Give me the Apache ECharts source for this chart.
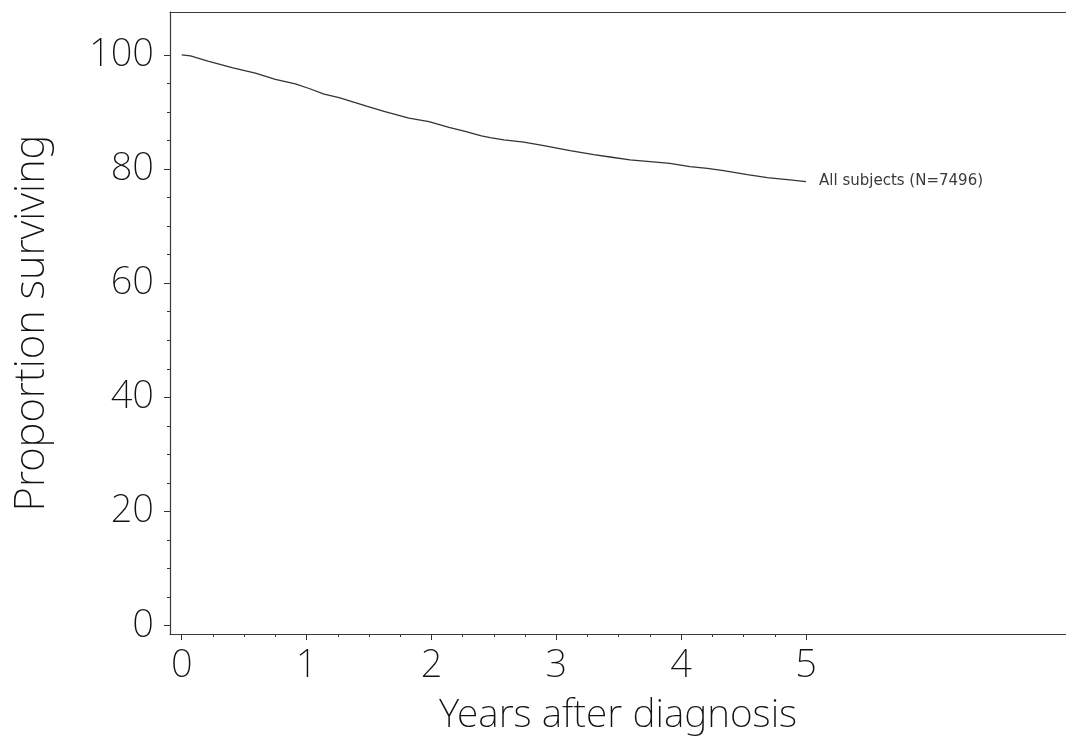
<!DOCTYPE html>
<html>
<head>
<meta charset="utf-8">
<script src="https://cdn.jsdelivr.net/npm/echarts@6/dist/echarts.min.js"></script>
<style>
html,body{margin:0;padding:0;background:#fff;}
#chart{width:1066px;height:742px;}
</style>
</head>
<body>
<div id="chart"></div>
<script>
// Survival curve (years after diagnosis, percent surviving)
var years = [0, 0.07, 0.21, 0.41, 0.59, 0.75, 0.91, 1.02, 1.14, 1.26, 1.48, 1.62, 1.82, 1.98, 2.14, 2.27, 2.40, 2.47, 2.58, 2.74, 2.90, 3.11, 3.30, 3.43, 3.59, 3.75, 3.91, 4.07, 4.21, 4.34, 4.53, 4.69, 4.87, 5.0];
var surviving = [100, 99.8, 98.9, 97.7, 96.8, 95.7, 94.9, 94.1, 93.1, 92.5, 91.0, 90.1, 88.9, 88.3, 87.3, 86.6, 85.8, 85.5, 85.1, 84.7, 84.1, 83.2, 82.5, 82.1, 81.6, 81.3, 81.0, 80.4, 80.1, 79.7, 79.0, 78.5, 78.1, 77.8];
var seriesLabel = 'All subjects (N=7496)';
var xTickLabels = [0, 1, 2, 3, 4, 5];
var xMinorTicks = [0.25, 0.5, 0.75, 1.25, 1.5, 1.75, 2.25, 2.5, 2.75, 3.25, 3.5, 3.75, 4.25, 4.5, 4.75];
var yTickLabels = [0, 20, 40, 60, 80, 100];
var yMinorTicks = [5, 10, 15, 25, 30, 35, 45, 50, 55, 65, 70, 75, 85, 90, 95];
var xTitle = 'Years after diagnosis';
var yTitle = 'Proportion surviving';

var FONT = "'Noto Sans', 'Open Sans', sans-serif";
var FW = 200;
var XMIN = -0.094, XMAX = 7.082, YMIN = -1.45, YMAX = 107.5;
var FRAME = '#3a3a3a';

var chart = echarts.init(document.getElementById('chart'), null, {renderer: 'canvas'});
chart.setOption({
  animation: false,
  backgroundColor: '#fff',
  grid: {left: 170, top: 12, right: 0, bottom: 108, show: false, containLabel: false, outerBoundsMode: 'none'},
  xAxis: [{
    type: 'value', min: XMIN, max: XMAX, position: 'bottom',
    axisLine: {show: true, onZero: false, lineStyle: {color: FRAME, width: 1.2}},
    splitLine: {show: false},
    axisTick: {show: true, customValues: xTickLabels, length: 6, lineStyle: {color: '#333'}},
    axisLabel: {show: true, customValues: xTickLabels, margin: 13, fontFamily: FONT, fontWeight: FW, fontSize: 38, color: '#111'},
    name: xTitle, nameLocation: 'middle', nameGap: 62,
    nameTextStyle: {fontFamily: FONT, fontWeight: FW, fontSize: 39, color: '#111'}
  }, {
    type: 'value', min: XMIN, max: XMAX, position: 'bottom',
    axisLine: {show: false, onZero: false},
    splitLine: {show: false},
    axisTick: {show: true, customValues: xMinorTicks, length: 3, lineStyle: {color: '#333'}},
    axisLabel: {show: false}
  }, {
    type: 'value', min: XMIN, max: XMAX, position: 'top',
    axisLine: {show: true, onZero: false, lineStyle: {color: FRAME, width: 1.2}},
    splitLine: {show: false},
    axisTick: {show: false},
    axisLabel: {show: false}
  }],
  yAxis: [{
    type: 'value', min: YMIN, max: YMAX, position: 'left',
    axisLine: {show: true, onZero: false, lineStyle: {color: FRAME, width: 1.2}},
    splitLine: {show: false},
    axisTick: {show: true, customValues: yTickLabels, length: 6, lineStyle: {color: '#333'}},
    axisLabel: {show: true, customValues: yTickLabels, margin: 16, fontFamily: FONT, fontWeight: FW, fontSize: 38, color: '#111'},
    name: yTitle, nameLocation: 'middle', nameGap: 117,
    nameTextStyle: {fontFamily: FONT, fontWeight: FW, fontSize: 42, color: '#111'}
  }, {
    type: 'value', min: YMIN, max: YMAX, position: 'left',
    axisLine: {show: false, onZero: false},
    splitLine: {show: false},
    axisTick: {show: true, customValues: yMinorTicks, length: 3, lineStyle: {color: '#333'}},
    axisLabel: {show: false}
  }],
  series: [{
    type: 'line',
    xAxisIndex: 0, yAxisIndex: 0,
    data: years.map(function (t, i) { return [t, surviving[i]]; }),
    showSymbol: false,
    symbol: 'none',
    lineStyle: {color: '#333', width: 1.3},
    endLabel: {show: true, formatter: seriesLabel, distance: 13, fontFamily: "'DejaVu Sans', sans-serif", fontSize: 15, color: '#3a3a3a'}
  }]
});
</script>
</body>
</html>
